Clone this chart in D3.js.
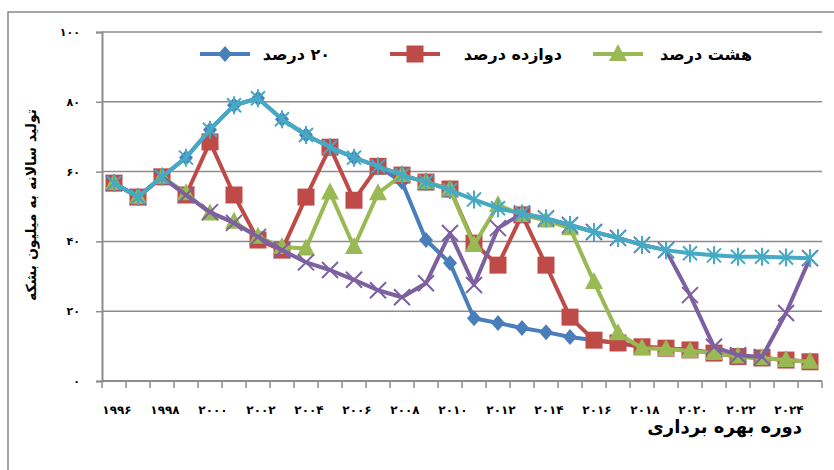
<!DOCTYPE html>
<html lang="fa">
<head>
<meta charset="utf-8">
<title>chart</title>
<script src="https://cdn.jsdelivr.net/npm/d3@7/dist/d3.min.js"></script>
<style>
  body { margin: 0; background: #fff; }
  text { font-family: "DejaVu Sans", sans-serif; font-weight: bold; }
</style>
</head>
<body>
<script>
var years = d3.range(1996, 2026);
var blue   = [56.7,52.7,58.5,64,72,79,81,75,70.5,67,64,61.5,57,40.4,33.8,18,16.6,15.2,14,12.6,11.7,10.9,9.8,9.4,8.9,8,7,6.6,6,5.5];
var red    = [56.7,52.7,58.5,53.3,68.5,53.3,40.4,37.5,52.7,67,51.8,61.5,59,57,55,39.5,33.2,47.6,33.2,18.3,11.7,10.9,9.8,9.4,8.9,8,7,6.6,6,5.5];
var green  = [56.7,52.7,58.5,53.8,48,45.6,41.3,38.4,38,54,38.4,53.8,59,57,55,39,50.4,47.6,46,43.8,28.4,13.7,9.4,9.2,8.6,8,7,6.6,6,5.5];
var purple = [56.7,52.7,58.5,53.3,48.4,45.3,41.3,37.5,34,31.8,29,26,24,28,42.4,27.5,43.8,48,46.6,44.7,42.7,41,39,37.5,24.6,9.8,7.4,6.9,19.5,35.2];
var cyan   = [56.7,52.7,58.5,64,72,79,81,75,70.5,67,64,61.5,59,57,54.7,52,49.5,48,46.6,44.7,42.7,41,39,37.5,36.6,36,35.6,35.6,35.4,35.2];
var yTicks = [0,20,40,60,80,100];
var legendNames = ["۲۰ درصد", "دوازده درصد", "هشت درصد"];

var fa = function(n) { return String(n).replace(/\d/g, function(c){ return "۰۱۲۳۴۵۶۷۸۹"[+c]; }); };

var W = 834, H = 470;
var svg = d3.select("body").append("svg").attr("width", W).attr("height", H);

// frame
svg.append("path").attr("d", "M8,470 L8,12 L834,12")
  .attr("fill", "none").attr("stroke", "#888").attr("stroke-width", 1.5);

var x = d3.scalePoint().domain(years).range([102, 822]).padding(0.5);
var y = d3.scaleLinear().domain([0, 100]).range([381, 32]);

// gridlines
svg.append("g").selectAll("line").data(yTicks.slice(1)).enter().append("line")
  .attr("x1", 102).attr("x2", 822)
  .attr("y1", function(d){ return y(d); }).attr("y2", function(d){ return y(d); })
  .attr("stroke", "#8c8c8c").attr("stroke-width", 1.5);

var yAxis = d3.axisLeft(y).tickValues(yTicks).tickSize(6).tickFormat(fa);
var gy = svg.append("g").attr("transform", "translate(102,0)").call(yAxis);
gy.select(".domain").attr("stroke", "#8c8c8c").attr("stroke-width", 2);
gy.selectAll(".tick line").attr("stroke", "#8c8c8c").attr("stroke-width", 1.5);
gy.selectAll("text").attr("x", -22).style("font-size", "11px").attr("fill", "#000").attr("direction", "ltr");

// x axis with category boundary ticks
var step = x.step();
var gx = svg.append("g");
gx.append("line").attr("x1", 102).attr("x2", 822).attr("y1", 381).attr("y2", 381)
  .attr("stroke", "#8c8c8c").attr("stroke-width", 2);
gx.selectAll(".tk").data(d3.range(years.length + 1)).enter().append("line")
  .attr("x1", function(i){ return 102 + i * step; }).attr("x2", function(i){ return 102 + i * step; })
  .attr("y1", 381).attr("y2", 388).attr("stroke", "#8c8c8c").attr("stroke-width", 1.5);
gx.selectAll("text").data(years.filter(function(d){ return (d - 1996) % 2 === 0; })).enter().append("text")
  .attr("x", function(d){ return x(d) + 3; }).attr("y", 414)
  .attr("direction", "ltr")
  .attr("text-anchor", "middle").style("font-size", "12px").text(fa);

var series = [
  { v: blue,   c: "#4a7ebb", m: "diamond" },
  { v: red,    c: "#be4b48", m: "square" },
  { v: green,  c: "#98b954", m: "triangle" },
  { v: purple, c: "#7d60a0", m: "x" },
  { v: cyan,   c: "#46aac5", m: "star" }
];

var line = d3.line().x(function(d, i){ return x(years[i]); }).y(function(d){ return y(d); });

function marker(g, type, c) {
  if (type === "diamond") g.append("path").attr("d", "M0,-8L7,0L0,8L-7,0Z").attr("fill", c);
  else if (type === "square") g.append("rect").attr("x", -8.5).attr("y", -8.5).attr("width", 17).attr("height", 17).attr("fill", c);
  else if (type === "triangle") g.append("path").attr("d", "M0,-10L9,7L-9,7Z").attr("fill", c);
  else if (type === "x") g.append("path").attr("d", "M-8,-8L8,8M-8,8L8,-8").attr("stroke", c).attr("stroke-width", 2);
  else g.append("path").attr("d", "M-7,-7L7,7M-7,7L7,-7M0,-9L0,9").attr("stroke", c).attr("stroke-width", 2);
}

series.forEach(function(s) {
  var g = svg.append("g");
  g.append("path").datum(s.v).attr("d", line).attr("fill", "none")
    .attr("stroke", s.c).attr("stroke-width", 4).attr("stroke-linejoin", "round");
  s.v.forEach(function(d, i) {
    var mg = g.append("g").attr("transform", "translate(" + x(years[i]) + "," + y(d) + ")");
    marker(mg, s.m, s.c);
  });
});

// legend
var leg = [
  { name: legendNames[0], s: series[0], lx: 200, tx: 330 },
  { name: legendNames[1], s: series[1], lx: 390, tx: 562 },
  { name: legendNames[2], s: series[2], lx: 593, tx: 752 }
];
leg.forEach(function(l) {
  svg.append("line").attr("x1", l.lx).attr("x2", l.lx + 50).attr("y1", 54).attr("y2", 54)
    .attr("stroke", l.s.c).attr("stroke-width", 4);
  var mg = svg.append("g").attr("transform", "translate(" + (l.lx + 25) + ",54)");
  marker(mg, l.s.m, l.s.c);
  svg.append("text").attr("x", l.tx).attr("y", 60).attr("direction", "rtl").attr("text-anchor", "start")
    .style("font-size", "16px").text(l.name);
});

// axis titles
svg.append("text").attr("transform", "translate(36,205) rotate(-90)")
  .attr("direction", "rtl")
  .attr("text-anchor", "middle").style("font-size", "14px").text("تولید سالانه به میلیون بشکه");
svg.append("text").attr("x", 802).attr("y", 433).attr("direction", "rtl").attr("text-anchor", "start")
  .style("font-size", "18px").text("دوره بهره برداری");
</script>
</body>
</html>
